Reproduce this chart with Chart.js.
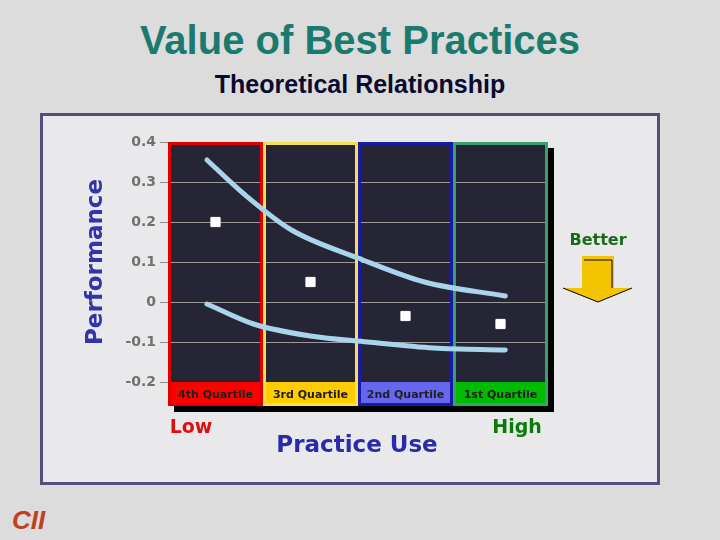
<!DOCTYPE html>
<html><head><meta charset="utf-8">
<script src="https://cdn.jsdelivr.net/npm/chart.js@4/dist/chart.umd.min.js"></script>
<style>
body{margin:0;background:#dcdcdc;width:720px;height:540px;overflow:hidden;position:relative;font-family:"Liberation Sans",Arial,sans-serif}
#panel{position:absolute;left:40px;top:113px;width:614px;height:366px;background:#e9e9ec;border:3px solid #50507a}
#t1{position:absolute;left:0;width:720px;top:18px;text-align:center;font-size:40px;font-weight:bold;color:#1a7a6e}
#t2{position:absolute;left:0;width:720px;top:70px;text-align:center;font-size:25px;font-weight:bold;color:#0a0a30}
canvas{position:absolute;left:0;top:0}
#logo{position:absolute;left:12px;top:505px;font-size:26px;font-weight:bold;color:#c04020;font-style:italic}
</style></head><body>
<div id="t1">Value of Best Practices</div>
<div id="t2">Theoretical Relationship</div>
<div id="panel"></div>
<div id="logo">CII</div>
<canvas id="c" width="720" height="540"></canvas>
<script>
const quartiles=["4th Quartile","3rd Quartile","2nd Quartile","1st Quartile"];
const markerX=[0.5,1.5,2.5,3.5];
const markerY=[0.2,0.05,-0.035,-0.055];
const upperX=[0.41,0.8,1.3,2.0,2.7,3.55];
const upperY=[0.355,0.27,0.18,0.11,0.05,0.015];
const lowerX=[0.41,0.9,1.5,2.1,2.8,3.55];
const lowerY=[-0.005,-0.055,-0.085,-0.1,-0.115,-0.12];
const yTicks=[0.4,0.3,0.2,0.1,0,-0.1,-0.2];
const borderCols=["#e00000","#f5e050","#1a1aa8","#3aa070"];
const labelCols=["#ff0000","#ffcc00","#6666ee","#00bb00"];
const pts=(xs,ys)=>xs.map((x,i)=>({x,y:ys[i]}));
const bg={id:'bg',beforeDatasetsDraw(ch){
  const {ctx,scales:{x,y}}=ch;const top=y.getPixelForValue(0.4),bot=y.getPixelForValue(-0.2);
  ctx.save();
  ctx.fillStyle='#000';ctx.fillRect(x.getPixelForValue(0)+6,top+6,x.getPixelForValue(4)-x.getPixelForValue(0),bot-top+24);
  for(let i=0;i<4;i++){const l=x.getPixelForValue(i),r=x.getPixelForValue(i+1);
    ctx.fillStyle=labelCols[i];ctx.fillRect(l,bot,r-l,24);
    ctx.fillStyle='#252535';ctx.fillRect(l,top,r-l,bot-top);
    ctx.strokeStyle='#999';ctx.lineWidth=1;
    yTicks.slice(1,-1).forEach(v=>{const py=Math.round(y.getPixelForValue(v))+0.5;ctx.beginPath();ctx.moveTo(l,py);ctx.lineTo(r,py);ctx.stroke();});
    ctx.strokeStyle=borderCols[i];ctx.lineWidth=3;ctx.strokeRect(l+1.5,top+1.5,r-l-3,bot-top+21);
    ctx.fillStyle='#202020';ctx.font='bold 11px "DejaVu Sans"';ctx.textAlign='center';ctx.textBaseline='middle';
    ctx.fillText(quartiles[i],(l+r)/2,bot+13);}
  ctx.restore();
},afterDraw(ch){
  const {ctx}=ch;ctx.save();
  ctx.translate(96,262);ctx.rotate(-Math.PI/2);ctx.fillStyle='#3333aa';ctx.font='bold 23px "DejaVu Sans"';ctx.textAlign='center';ctx.textBaseline='middle';ctx.fillText('Performance',0,0);ctx.restore();
  ctx.save();ctx.font='bold 19px "DejaVu Sans"';ctx.textBaseline='middle';ctx.textAlign='center';
  ctx.fillStyle='#dd1010';ctx.fillText('Low',191,428);
  ctx.fillStyle='#2a2aaa';ctx.font='bold 23px "DejaVu Sans"';ctx.fillText('Practice Use',357,446);
  ctx.fillStyle='#0a7a0a';ctx.font='bold 19px "DejaVu Sans"';ctx.fillText('High',517,428);
  ctx.font='bold 16px "DejaVu Sans"';ctx.fillStyle='#1a6a1a';ctx.fillText('Better',598,241);
  ctx.fillStyle='#f5c400';ctx.beginPath();ctx.moveTo(582,256);ctx.lineTo(614,256);ctx.lineTo(614,288);ctx.lineTo(632,288);ctx.lineTo(598,302);ctx.lineTo(563,288);ctx.lineTo(582,288);ctx.closePath();ctx.fill();
  ctx.strokeStyle='#000';ctx.lineWidth=1;ctx.beginPath();ctx.moveTo(584,260);ctx.lineTo(612,260);ctx.moveTo(612,260);ctx.lineTo(612,288);ctx.moveTo(563,288);ctx.lineTo(598,302);ctx.lineTo(632,288);ctx.stroke();
  ctx.restore();
}};
new Chart(document.getElementById('c'),{
  type:'scatter',
  data:{datasets:[
    {data:pts(upperX,upperY),showLine:true,borderColor:'#a8d4ec',borderWidth:5,pointRadius:0,cubicInterpolationMode:'monotone',borderCapStyle:'round'},
    {data:pts(lowerX,lowerY),showLine:true,borderColor:'#a8d4ec',borderWidth:5,pointRadius:0,cubicInterpolationMode:'monotone',borderCapStyle:'round'},
    {data:pts(markerX,markerY),pointStyle:'rect',pointRadius:6.5,backgroundColor:'#fff',borderColor:'#fff'}
  ]},
  plugins:[bg],
  options:{responsive:false,animation:false,
    layout:{padding:{left:108,right:172,top:142,bottom:158}},
    plugins:{legend:{display:false},tooltip:{enabled:false}},
    scales:{
      x:{type:'linear',min:0,max:4,display:false},
      y:{min:-0.2,max:0.4,afterFit:s=>{s.width=60},
        afterBuildTicks:s=>{s.ticks=yTicks.map(v=>({value:v}))},
        ticks:{color:'#707070',font:{size:14,weight:'bold',family:'DejaVu Sans'},callback:v=>String(Math.round(v*10)/10),padding:4},
        grid:{drawOnChartArea:false,color:'#888',tickLength:8},border:{display:false}}
    }}
});
</script></body></html>
